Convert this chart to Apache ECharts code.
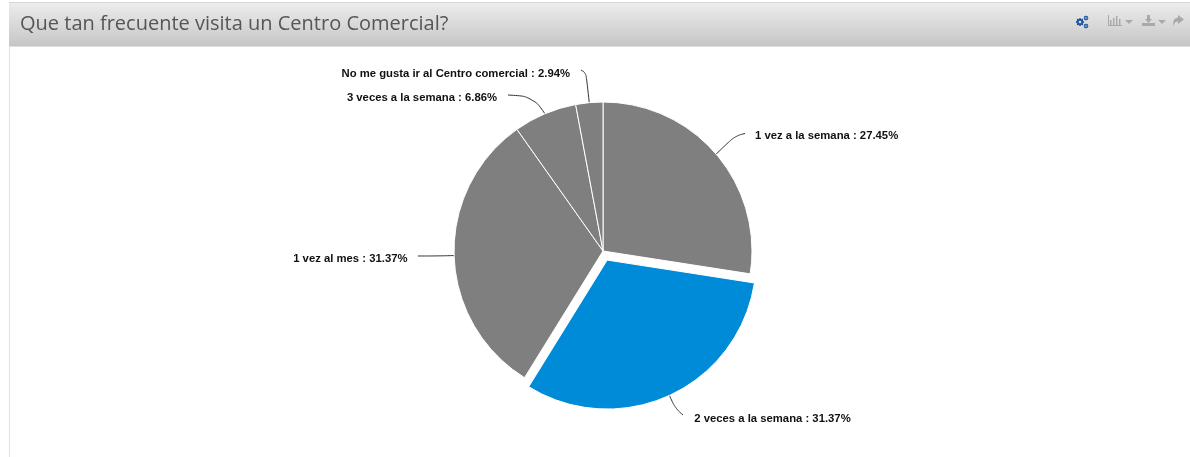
<!DOCTYPE html>
<html>
<head>
<meta charset="utf-8">
<style>
html,body{margin:0;padding:0;background:#fff;}
#chart{width:1190px;height:457px;}
</style>
<script src="https://cdn.jsdelivr.net/npm/echarts@6/dist/echarts.min.js"></script>
</head>
<body>
<div id="chart"></div>
<script>
const titleText = 'Que tan frecuente visita un Centro Comercial?';
const categories = ['1 vez a la semana', '2 veces a la semana', '1 vez al mes', '3 veces a la semana', 'No me gusta ir al Centro comercial'];
const percents = [27.45, 31.37, 31.37, 6.86, 2.94];

const GREY = '#7f7f7f', BLUE = '#008bd9', ICON = '#a9a9a9', GEAR = '#1f57a6';

// Callout text anchor and leader-line bend/end, by slice order.
// The pulled-out slice keeps its default label spot and its leader moves with the slice offset.
const calloutAnchors = [
  { x: 755, y: 136, align: 'left', bend: [735, 136], end: [745, 133.5] },
  { x: 694, y: 418, align: 'left', bend: [670.8, 398.9], end: [678.8, 405.9], start: [661.3, 377.4] },
  { x: 407.5, y: 259, align: 'right', bend: [436, 256], end: [418, 256] },
  { x: 497, y: 98, align: 'right', bend: [533, 96.5], end: [508, 95] },
  { x: 570, y: 74, align: 'right', bend: [586, 73], end: [581, 70] }
];

function caret(x, y) {
  return { type: 'polygon', shape: { points: [[x, y], [x + 8, y], [x + 4, y + 4]] }, style: { fill: ICON } };
}
function bar(x, y, h) {
  return { type: 'rect', shape: { x: x, y: y, width: 1.4, height: h }, style: { fill: ICON } };
}
function gear(cx, cy, r, inner) {
  const teeth = [];
  for (let i = 0; i < 8; i++) {
    const a = i * Math.PI / 4;
    teeth.push({ type: 'circle', shape: { cx: cx + Math.cos(a) * r, cy: cy + Math.sin(a) * r, r: r * 0.28 }, style: { fill: GEAR } });
  }
  teeth.push({ type: 'ring', shape: { cx: cx, cy: cy, r: r, r0: inner }, style: { fill: GEAR } });
  return teeth;
}

const headerBar = [
  { type: 'rect', z: 0, shape: { x: 9, y: 46, width: 1, height: 411 }, style: { fill: '#e2e2e2' } },
  {
    type: 'rect', z: 0,
    shape: { x: 9, y: 3, width: 1181, height: 43 },
    style: {
      fill: { type: 'linear', x: 0, y: 0, x2: 0, y2: 1, colorStops: [{ offset: 0, color: '#ececec' }, { offset: 1, color: '#c6c6c6' }] }
    }
  },
  { type: 'rect', z: 0, shape: { x: 9, y: 2, width: 1181, height: 1 }, style: { fill: '#d6d6d6' } },
  { type: 'rect', z: 0, shape: { x: 9, y: 46, width: 1181, height: 1 }, style: { fill: '#e0e0e0' } },
  ...gear(1080, 22, 3.2, 1.3),
  ...gear(1086, 18, 1.9, 0.8),
  ...gear(1086, 26, 1.9, 0.8),
  { type: 'rect', shape: { x: 1108, y: 15, width: 1, height: 11 }, style: { fill: ICON } },
  { type: 'rect', shape: { x: 1108, y: 25, width: 14, height: 1 }, style: { fill: ICON } },
  bar(1110, 20, 5), bar(1113, 18, 7), bar(1116, 16, 9), bar(1119, 19, 6),
  caret(1125, 20),
  { type: 'polygon', shape: { points: [[1147, 15], [1150, 15], [1150, 19], [1152, 19], [1148.5, 23], [1145, 19], [1147, 19]] }, style: { fill: ICON } },
  { type: 'rect', shape: { x: 1142, y: 23, width: 13, height: 3 }, style: { fill: ICON } },
  caret(1158, 20),
  { type: 'polygon', shape: { points: [[1178, 15], [1184, 19.5], [1178, 24], [1178, 21.5], [1175.5, 22], [1173, 26], [1173.4, 21], [1175, 18.5], [1178, 17.5]] }, style: { fill: ICON } }
];

const chart = echarts.init(document.getElementById('chart'), null, { renderer: 'canvas' });
chart.setOption({
  animation: false,
  backgroundColor: '#fff',
  title: {
    text: titleText,
    left: 15, top: 9,
    textStyle: { fontFamily: 'Open Sans', fontWeight: 'normal', fontSize: 20, color: '#565656' }
  },
  graphic: { elements: headerBar },
  series: [{
    type: 'pie',
    center: [603, 251],
    radius: [0, 149],
    startAngle: 90,
    clockwise: true,
    silent: true,
    selectedMode: 'single',
    selectedOffset: 10,
    avoidLabelOverlap: false,
    data: categories.map((name, i) => ({
      name: name,
      value: percents[i],
      selected: i === 1,
      itemStyle: { color: i === 1 ? BLUE : GREY },
      labelLine: i === 1 ? { length: 26, length2: 9 } : undefined
    })),
    itemStyle: { borderColor: '#fff', borderWidth: 1 },
    label: {
      formatter: p => p.name + ' : ' + p.value.toFixed(2) + '%',
      fontFamily: 'Liberation Sans',
      fontWeight: 'bold',
      fontSize: 11.3,
      color: '#111'
    },
    labelLine: { show: true, smooth: 0.4, length: 14, length2: 14, lineStyle: { color: '#333', width: 1 } },
    labelLayout: p => {
      const a = calloutAnchors[p.dataIndex];
      const start = a.start || p.labelLinePoints[0];
      return {
        x: a.x, y: a.y, align: a.align, verticalAlign: 'middle',
        labelLinePoints: [start, a.bend, a.end]
      };
    }
  }]
});
</script>
</body>
</html>
